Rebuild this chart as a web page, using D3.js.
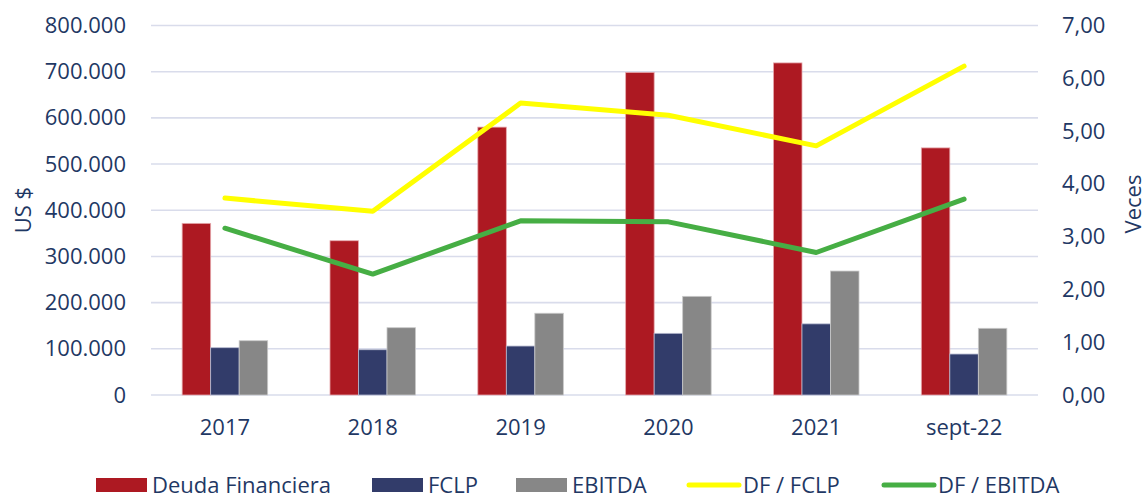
<!DOCTYPE html>
<html>
<head>
<meta charset="utf-8">
<script src="https://cdn.jsdelivr.net/npm/d3@7"></script>
<style>
  body { margin: 0; background: white; }
  svg text { font-family: "Open Sans", sans-serif; fill: #1F3864; }
</style>
</head>
<body>
<script>
// datos
const years = ["2017", "2018", "2019", "2020", "2021", "sept-22"]
const deuda = [371600, 334000, 580000, 698500, 719000, 535000]
const fclp = [102400, 98000, 106000, 133500, 154000, 88700]
const ebitda = [117500, 145700, 177000, 213600, 268400, 144400]
const dfFclp = [3.73, 3.48, 5.53, 5.30, 4.72, 6.23]
const dfEbitda = [3.16, 2.29, 3.30, 3.28, 2.70, 3.71]
const leftTicks = [0, 100000, 200000, 300000, 400000, 500000, 600000, 700000, 800000]
const rightTicks = [0, 1, 2, 3, 4, 5, 6, 7]

const c = {
    red: "#AD1922",
    navy: "#323C6A",
    gray: "#878787",
    yellow: "#FFFF00",
    green: "#46AE44",
    grid: "#D9DCEB",
}

const bars = [
    {name: "Deuda Financiera", values: deuda, color: c.red, edge: "#E6A9AD"},
    {name: "FCLP", values: fclp, color: c.navy, edge: "#B6BAD0"},
    {name: "EBITDA", values: ebitda, color: c.gray, edge: "#C9C9C9"},
]
const lines = [
    {name: "DF / FCLP", values: dfFclp, color: c.yellow},
    {name: "DF / EBITDA", values: dfEbitda, color: c.green},
]

const W = 1146, H = 498
const m = {left: 151, right: 1038, top: 25.5, bottom: 395}

const svg = d3.select("body").append("svg")
    .attr("width", W)
    .attr("height", H)

const x0 = d3.scaleBand().domain(years).range([m.left, m.right])
const x1 = d3.scaleBand().domain(bars.map(b => b.name))
    .range([0, x0.bandwidth()])
    .paddingOuter(1.093)
const yL = d3.scaleLinear().domain([0, 800000]).range([m.bottom, m.top])
const yR = d3.scaleLinear().domain([0, 7]).range([m.bottom, m.top])

const fmtL = d3.formatLocale({decimal: ",", thousands: ".", grouping: [3], currency: ["$", ""]})
const fL = fmtL.format(",.0f")
const fR = fmtL.format(".2f")

// grilla
svg.append("g")
    .selectAll("line")
    .data(leftTicks)
    .join("line")
        .attr("x1", m.left)
        .attr("x2", m.right)
        .attr("y1", d => yL(d))
        .attr("y2", d => yL(d))
        .attr("stroke", c.grid)
        .attr("stroke-width", 1.6)

// ejes
const axL = svg.append("g")
    .attr("transform", `translate(${m.left},0)`)
    .call(d3.axisLeft(yL).tickValues(leftTicks).tickFormat(fL).tickSize(0).tickPadding(25))
const axR = svg.append("g")
    .attr("transform", `translate(${m.right},0)`)
    .call(d3.axisRight(yR).tickValues(rightTicks).tickFormat(fR).tickSize(0).tickPadding(24))
const axB = svg.append("g")
    .attr("transform", `translate(0,${m.bottom})`)
    .call(d3.axisBottom(x0).tickSize(0).tickPadding(24))

for (const ax of [axL, axR, axB]) {
    ax.select(".domain").remove()
    ax.selectAll("text")
        .attr("font-size", 22)
        .attr("font-family", "Open Sans")
        .attr("fill", "#1F3864")
}

// barras
const groups = svg.append("g")
    .selectAll("g")
    .data(years)
    .join("g")
        .attr("transform", d => `translate(${x0(d)},0)`)

groups.selectAll("rect")
    .data((d, i) => bars.map(b => ({b: b, v: b.values[i]})))
    .join("rect")
        .attr("x", d => x1(d.b.name))
        .attr("y", d => yL(d.v))
        .attr("width", x1.bandwidth())
        .attr("height", d => yL(0) - yL(d.v))
        .attr("fill", d => d.b.color)
        .attr("stroke", d => d.b.edge)
        .attr("stroke-width", 0.8)

// líneas
const line = d3.line()
    .x((d, i) => x0(years[i]) + x0.bandwidth() / 2)
    .y(d => yR(d))

svg.append("g")
    .selectAll("path")
    .data(lines)
    .join("path")
        .attr("d", d => line(d.values))
        .attr("fill", "none")
        .attr("stroke", d => d.color)
        .attr("stroke-width", 5)
        .attr("stroke-linejoin", "round")
        .attr("stroke-linecap", "round")

// títulos de ejes
svg.append("text")
    .attr("transform", `translate(31,210) rotate(-90)`)
    .attr("text-anchor", "middle")
    .attr("font-size", 22)
    .text("US $")
svg.append("text")
    .attr("transform", `translate(1141,204) rotate(-90)`)
    .attr("text-anchor", "middle")
    .attr("font-size", 22)
    .text("Veces")

// leyenda
const legend = [
    {name: "Deuda Financiera", color: c.red, x: 96, kind: "rect"},
    {name: "FCLP", color: c.navy, x: 372, kind: "rect"},
    {name: "EBITDA", color: c.gray, x: 516, kind: "rect"},
    {name: "DF / FCLP", color: c.yellow, x: 687, kind: "line"},
    {name: "DF / EBITDA", color: c.green, x: 882, kind: "line"},
]
const lg = svg.append("g")
    .selectAll("g")
    .data(legend)
    .join("g")
        .attr("transform", d => `translate(${d.x},485)`)

lg.filter(d => d.kind === "rect").append("rect")
    .attr("x", 0)
    .attr("y", -7)
    .attr("width", 51)
    .attr("height", 14)
    .attr("fill", d => d.color)
lg.filter(d => d.kind === "line").append("line")
    .attr("x1", 2)
    .attr("x2", 52)
    .attr("stroke", d => d.color)
    .attr("stroke-width", 5)
    .attr("stroke-linecap", "round")
lg.append("text")
    .attr("x", 56)
    .attr("dy", "0.35em")
    .attr("font-size", 22)
    .text(d => d.name)
</script>
</body>
</html>
